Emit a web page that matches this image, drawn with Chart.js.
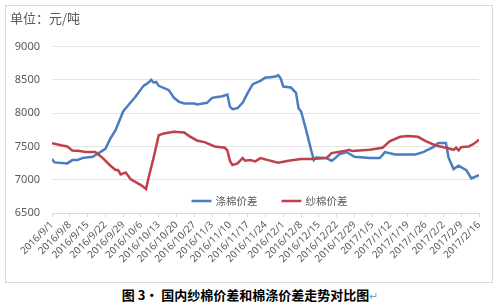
<!DOCTYPE html>
<html>
<head>
<meta charset="utf-8">
<script src="https://cdn.jsdelivr.net/npm/chart.js@4"></script>
<style>
  body { margin: 0; background: #fff; width: 500px; height: 305px; overflow: hidden; position: relative; }
  #frame { position: absolute; left: 5px; top: 5px; width: 488px; height: 278px; box-sizing: border-box; border: 1px solid #d9d9d9; }
  #frame canvas { position: absolute; left: 0; top: 0; }
  #caption { position: absolute; left: 0; width: 500px; top: 287px; text-align: center; font: bold 13px "Noto Sans CJK SC", sans-serif; color: #000; line-height: 16px; }
  #caption span { color: #999; font-weight: normal; font-size: 11px; }
</style>
</head>
<body>
<div id="frame"><canvas id="myChart" width="486" height="276"></canvas></div>
<div id="caption">图 3· 国内纱棉价差和棉涤价差走势对比图<span>↵</span></div>
<script>
// days counted from 2016/9/1
var startDate = Date.UTC(2016, 8, 1);
var seriesNames = ["涤棉价差", "纱棉价差"];

var blueDays = [0, 1, 6, 8, 10, 12, 16, 18, 21, 23, 25, 28, 29, 33, 36, 38, 39, 40, 41, 42, 46, 48, 50, 52, 56, 57, 61, 63, 67, 69, 70, 71, 73, 75, 77, 79, 82, 84, 85, 88, 89, 90, 91, 94, 96, 97, 98, 100, 102, 103, 104, 108, 110, 111, 113, 116, 117, 119, 125, 129, 131, 135, 143, 146, 150, 152, 155, 156, 158, 160, 163, 165, 168];
var blueValues = [7310, 7260, 7245, 7295, 7295, 7325, 7345, 7390, 7465, 7620, 7745, 8025, 8075, 8255, 8410, 8460, 8500, 8460, 8470, 8410, 8345, 8230, 8170, 8145, 8145, 8130, 8155, 8230, 8255, 8280, 8100, 8060, 8075, 8155, 8305, 8435, 8485, 8535, 8535, 8550, 8570, 8520, 8400, 8385, 8305, 8075, 8025, 7745, 7440, 7295, 7335, 7325, 7285, 7310, 7380, 7415, 7390, 7345, 7325, 7325, 7415, 7380, 7380, 7415, 7490, 7550, 7550, 7335, 7160, 7210, 7145, 7020, 7070];

var redDays = [0, 4, 6, 8, 11, 13, 17, 20, 23, 25, 26, 27, 29, 31, 35, 37, 38, 40, 42, 44, 48, 52, 54, 57, 60, 64, 68, 69, 70, 71, 73, 75, 76, 78, 80, 82, 85, 89, 93, 98, 102, 108, 110, 115, 117, 118, 125, 130, 133, 137, 140, 144, 147, 151, 155, 158, 159, 160, 161, 164, 166, 168];
var redValues = [7550, 7515, 7500, 7440, 7430, 7415, 7415, 7325, 7210, 7145, 7145, 7080, 7110, 7005, 6920, 6860, 7030, 7335, 7670, 7695, 7720, 7710, 7655, 7590, 7565, 7500, 7480, 7440, 7285, 7220, 7245, 7325, 7285, 7295, 7275, 7325, 7295, 7255, 7285, 7310, 7310, 7325, 7400, 7430, 7450, 7430, 7450, 7480, 7580, 7645, 7655, 7645, 7580, 7515, 7480, 7450, 7480, 7440, 7490, 7500, 7540, 7600];

var yMin = 6500, yMax = 9000, yStep = 500;
var xMax = 168, xStep = 7;

function points(days, values) {
  return days.map(function (d, i) { return { x: d, y: values[i] }; });
}

function dateLabel(d) {
  var t = new Date(startDate + d * 86400000);
  return t.getUTCFullYear() + "/" + (t.getUTCMonth() + 1) + "/" + t.getUTCDate();
}

// legend sits inside the plot, just above the bottom axis
var innerLegend = {
  id: "innerLegend",
  afterDatasetsDraw: function (chart) {
    var c = chart.ctx, area = chart.chartArea;
    var ds = chart.data.datasets;
    c.save();
    c.font = "10.5px 'Noto Sans CJK SC', sans-serif";
    var lineLen = 20, gap = 4, spacing = 24, total = 0;
    var widths = ds.map(function (d) { return c.measureText(d.label).width; });
    widths.forEach(function (w, i) { total += lineLen + gap + w + (i ? spacing : 0); });
    var x = (area.left + area.right) / 2 - total / 2 + 4;
    var y = area.bottom - 12;
    ds.forEach(function (d, i) {
      c.strokeStyle = d.borderColor;
      c.lineWidth = 2.5;
      c.beginPath();
      c.moveTo(x, y);
      c.lineTo(x + lineLen, y);
      c.stroke();
      c.fillStyle = "#595959";
      c.textBaseline = "middle";
      c.fillText(d.label, x + lineLen + gap, y);
      x += lineLen + gap + widths[i] + spacing;
    });
    c.restore();
  }
};

var ctx = document.getElementById("myChart").getContext("2d");
var chart = new Chart(ctx, {
  type: "line",
  data: {
    datasets: [
      {
        label: seriesNames[0],
        data: points(blueDays, blueValues),
        borderColor: "#4A7CC2",
        borderWidth: 2.5,
        pointRadius: 0,
        order: 1,
      },
      {
        label: seriesNames[1],
        data: points(redDays, redValues),
        borderColor: "#C0404A",
        borderWidth: 2.5,
        pointRadius: 0,
        order: 0,
      },
    ],
  },
  options: {
    responsive: false,
    animation: false,
    layout: { padding: { left: 4, right: 13, top: 0, bottom: 0 } },
    plugins: {
      legend: { display: false },
      tooltip: { enabled: false },
      title: {
        display: true,
        text: "单位：元/吨",
        align: "start",
        color: "#595959",
        font: { family: "'Noto Sans CJK SC', sans-serif", size: 13, weight: "normal", lineHeight: 1.2 },
        padding: { top: 4, bottom: 21 },
      },
    },
    scales: {
      x: {
        type: "linear",
        min: 0,
        max: xMax,
        afterFit: function (s) { s.height = 69; },
        grid: { drawOnChartArea: false, drawTicks: true, tickLength: 4, color: "#d9d9d9" },
        border: { display: true, color: "#d9d9d9" },
        ticks: {
          stepSize: xStep,
          autoSkip: false,
          maxRotation: 45,
          minRotation: 45,
          padding: 2,
          color: "#595959",
          font: { family: "'Noto Sans', sans-serif", size: 10 },
          callback: function (v) { return v % xStep === 0 ? dateLabel(v) : ""; },
        },
      },
      y: {
        min: yMin,
        max: yMax,
        afterFit: function (s) { s.width = 42; },
        grid: { color: "#e4e4e4", drawTicks: false },
        border: { display: false },
        ticks: {
          stepSize: yStep,
          padding: 12,
          color: "#595959",
          font: { family: "'Noto Sans', sans-serif", size: 11 },
          callback: function (v) { return String(v); },
        },
      },
    },
  },
  plugins: [innerLegend],
});
</script>
</body>
</html>
